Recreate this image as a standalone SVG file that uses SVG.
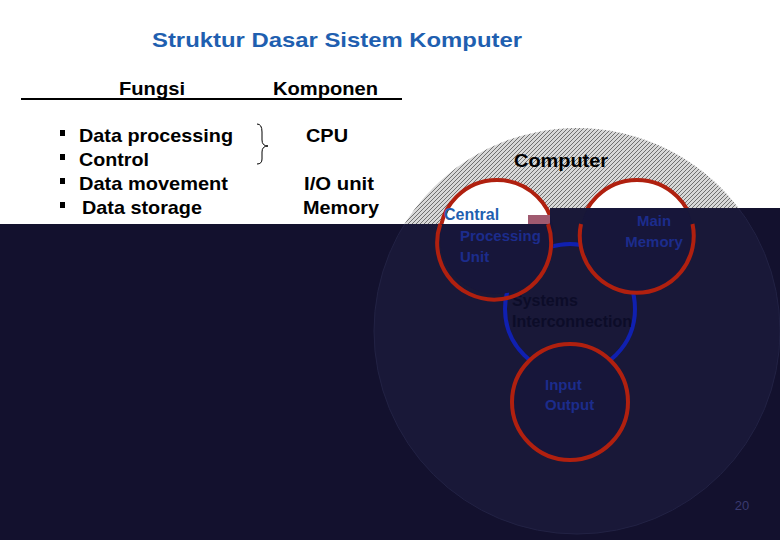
<svg xmlns="http://www.w3.org/2000/svg" width="780" height="540" viewBox="0 0 780 540">
<style>
.t{font-family:"Liberation Sans",Arial,sans-serif;font-weight:bold}
.b{font-size:19px;fill:#000}
.ring{fill:none;stroke:#b0200f;stroke-width:4}
.in{font-size:15px;fill:#1c2c8c}
</style>
<defs>
<pattern id="h" width="4" height="4" patternUnits="userSpaceOnUse">
<rect width="4" height="4" fill="#d8d8d8"/><path d="M0 4L4 0" stroke="#707070" stroke-width="1"/>
</pattern>
<clipPath id="top"><polygon points="0,0 780,0 780,208 550,208 550,224 0,224"/></clipPath>
<clipPath id="bot"><polygon points="0,224 550,224 550,208 780,208 780,540 0,540"/></clipPath>
</defs>
<rect width="780" height="540" fill="#fff"/>
<text class="t" x="152" y="47" font-size="21" fill="#1f5fb0" textLength="370" lengthAdjust="spacingAndGlyphs">Struktur Dasar Sistem Komputer</text>
<g id="header">
<text class="t b" x="119" y="95" textLength="66" lengthAdjust="spacingAndGlyphs">Fungsi</text>
<text class="t b" x="273" y="95" textLength="105" lengthAdjust="spacingAndGlyphs">Komponen</text>
<line x1="21" y1="99" x2="402" y2="99" stroke="#000" stroke-width="2"/>
</g>
<g id="list" class="t b">
<rect x="60" y="130" width="5" height="6" fill="#000"/><text x="79" y="142" textLength="154" lengthAdjust="spacingAndGlyphs">Data processing</text>
<rect x="60" y="154" width="5" height="6" fill="#000"/><text x="79" y="166" textLength="70" lengthAdjust="spacingAndGlyphs">Control</text>
<rect x="60" y="178" width="5" height="6" fill="#000"/><text x="79" y="190" textLength="149" lengthAdjust="spacingAndGlyphs">Data movement</text>
<rect x="60" y="202" width="5" height="6" fill="#000"/><text x="82" y="214" textLength="120" lengthAdjust="spacingAndGlyphs">Data storage</text>
<path d="M257 124 Q262 124 262 132 L262 140 Q262 146 268 146 Q262 146 262 152 L262 159 Q262 164 257 164" fill="none" stroke="#000" stroke-width="1"/>
<text x="306" y="142" textLength="42" lengthAdjust="spacingAndGlyphs">CPU</text>
<text x="304" y="190" textLength="70" lengthAdjust="spacingAndGlyphs">I/O unit</text>
<text x="303" y="214" textLength="76" lengthAdjust="spacingAndGlyphs">Memory</text>
</g>
<g id="top-part" clip-path="url(#top)">
<circle cx="577" cy="331" r="203" fill="url(#h)"/>
<circle cx="497" cy="237" r="57" class="ring" style="fill:#fff"/>
<circle cx="637" cy="237" r="57" class="ring" style="fill:#fff"/>
<text class="t" x="514" y="167" font-size="18" fill="#000" textLength="94" lengthAdjust="spacingAndGlyphs">Computer</text>
<text class="t" x="444" y="220" font-size="16" fill="#1f5fb0">Central</text>
</g>
<polygon points="0,224 550,224 550,208 780,208 780,540 0,540" fill="#13112e"/>
<rect x="528" y="215" width="22" height="9" fill="#a05a70"/>
<g id="computer" clip-path="url(#bot)">
<circle cx="577" cy="331" r="203" fill="#191838" stroke="#222244" stroke-width="1"/>
</g>
<g id="connectors"></g>
<g id="sys">
<circle cx="570" cy="309" r="65" fill="none" stroke="#1020b0" stroke-width="4"/>
<text class="t" x="512" y="306" font-size="16" fill="#0c0c28">Systems</text>
<text class="t" x="512" y="327" font-size="16" fill="#0c0c28">Interconnection</text>
</g>
<g id="cpu">
<circle cx="497" cy="237" r="57" fill="#17163a" clip-path="url(#bot)"/>
<path d="M440.3 224 A57 57 0 1 0 548 224" class="ring"/>
<text class="t in" x="460" y="241">Processing</text>
<text class="t in" x="460" y="262">Unit</text>
</g>
<g id="mem">
<circle cx="637" cy="237" r="57" fill="#17163a" clip-path="url(#bot)"/>
<path d="M581 224 A57 57 0 1 0 692.5 224" class="ring"/>
<text class="t in" x="654" y="226" text-anchor="middle">Main</text>
<text class="t in" x="654" y="247" text-anchor="middle">Memory</text>
</g>
<g id="io">
<circle cx="570" cy="402" r="58" class="ring" style="fill:#17163a"/>
<text class="t in" x="545" y="390">Input</text>
<text class="t in" x="545" y="410">Output</text>
</g>
<text x="742" y="510" font-family="Liberation Sans,sans-serif" font-size="13" fill="#3a3a70" text-anchor="middle">20</text>
</svg>
